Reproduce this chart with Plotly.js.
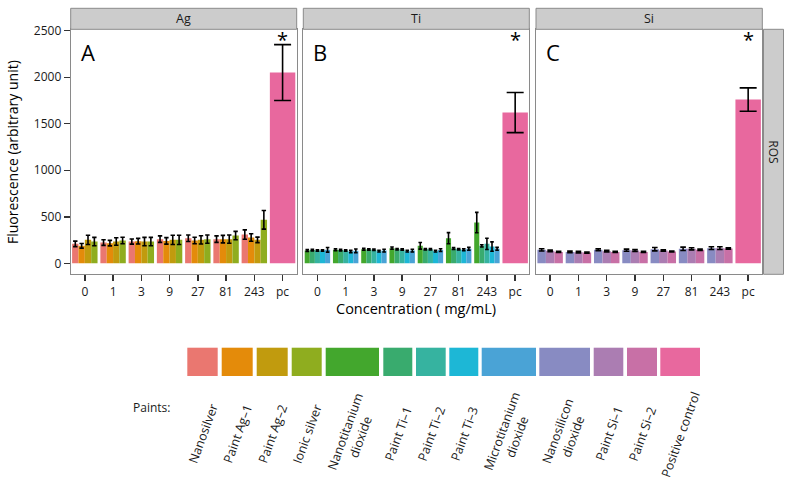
<!DOCTYPE html>
<html><head><meta charset="utf-8">
<script src="https://cdn.plot.ly/plotly-3.0.1.min.js"></script>
<style>html,body{margin:0;padding:0;background:#fff}</style>
</head><body><div id="chart" style="width:792px;height:483px"></div>
<script>
// ---------- DATA ----------
const concentrations = ['0','1','3','9','27','81','243'];
const allCategories = ['0','1','3','9','27','81','243','pc'];
const panelNames = ['Ag','Ti','Si'];
const panelLetters = ['A','B','C'];

// Ag panel
const nanosilver      = [209,223,234,260,270,260,309];
const nanosilverErr   = [30,30,28,35,35,35,50];
const paintAg1        = [188,217,238,241,245,260,277];
const paintAg1Err     = [25,30,30,35,35,40,40];
const paintAg2        = [252,234,234,252,252,260,252];
const paintAg2Err     = [50,40,45,50,45,45,30];
const ionicSilver     = [234,245,234,252,260,298,467];
const ionicSilverErr  = [45,35,45,50,45,45,100];

// Ti panel
const nanoTiO2        = [137,145,152,163,188,270,438];
const nanoTiO2Err     = [10,10,10,12,35,60,110];
const paintTi1        = [142,142,148,152,152,159,188];
const paintTi1Err     = [8,8,8,8,8,10,12];
const paintTi2        = [137,137,145,148,152,152,209];
const paintTi2Err     = [8,8,8,8,8,8,60];
const paintTi3        = [137,127,131,131,131,145,180];
const paintTi3Err     = [8,12,10,10,10,10,50];
const microTiO2       = [145,134,137,137,142,156,156];
const microTiO2Err    = [25,20,15,15,15,15,15];

// Si panel
const nanoSiO2        = [145,123,145,141,152,156,163];
const nanoSiO2Err     = [12,8,10,12,18,18,15];
const paintSi1        = [134,120,131,138,138,156,163];
const paintSi1Err     = [8,8,8,10,8,12,15];
const paintSi2        = [123,116,123,123,127,145,159];
const paintSi2Err     = [6,6,6,6,6,8,8];

// Positive control per panel (Ag, Ti, Si)
const positiveControl    = [2050,1620,1760];
const positiveControlErr = [300,215,125];

// Legend
const legendLabels = ['Nanosilver','Paint Ag–1','Paint Ag–2','Ionic silver','Nanotitanium<br>dioxide',
  'Paint Ti–1','Paint Ti–2','Paint Ti–3','Microtitanium<br>dioxide','Nanosilicon<br>dioxide',
  'Paint Si–1','Paint Si–2','Positive control'];

// ---------- STYLE ----------
const colors = ['#EA7770','#E48B0A','#C19B0E','#8FAD1F','#43A72D','#39AB6E','#36B3A0',
  '#1DB7D6','#4AA3D6','#888BC2','#AB7DB2','#C870A6','#E8689E'];
const W = 792, H = 483;
const px = v => v / W, py = v => 1 - v / H;
const panelX = [[70.7,296.7],[303.3,529.3],[536,762.3]];
const panelTop = 29.3, panelBottom = 274.3, stripTop = 8.3;
const legendLeft  = [187.3,221.7,256.7,291.7,325.7,383.3,416,449.3,481.7,539.3,593.7,627,660.3];
const legendRight = [217.7,252.7,287.7,321.7,379,412.3,445.7,478.3,536,590,623.3,657,700];
const legendTop = 347.7, legendBottom = 376, legendLabelY = 434;
const FONT = '"Open Sans", "DejaVu Sans", sans-serif';
const txt = '#1a1a1a', borderCol = '#8a8a8a', stripFill = '#cccccc';

const panels = [
  {series:[[nanosilver,nanosilverErr,0],[paintAg1,paintAg1Err,1],[paintAg2,paintAg2Err,2],[ionicSilver,ionicSilverErr,3]], errW:2.2},
  {series:[[nanoTiO2,nanoTiO2Err,4],[paintTi1,paintTi1Err,5],[paintTi2,paintTi2Err,6],[paintTi3,paintTi3Err,7],[microTiO2,microTiO2Err,8]], errW:1.8},
  {series:[[nanoSiO2,nanoSiO2Err,9],[paintSi1,paintSi1Err,10],[paintSi2,paintSi2Err,11]], errW:2.8}
];

const traces = [];
panels.forEach((p, i) => {
  const xa = i === 0 ? 'x' : 'x' + (i + 1), ya = i === 0 ? 'y' : 'y' + (i + 1);
  p.series.forEach(([vals, errs, ci]) => {
    traces.push({type:'bar', x:concentrations, y:vals, xaxis:xa, yaxis:ya,
      name:legendLabels[ci], marker:{color:colors[ci], line:{width:0}},
      error_y:{type:'data', array:errs, visible:true, color:'#000', thickness:1.6, width:p.errW},
      showlegend:false, hoverinfo:'skip'});
  });
  traces.push({type:'bar', x:['pc'], y:[positiveControl[i]], xaxis:xa, yaxis:ya,
    offset:-0.45, width:0.9, name:'Positive control',
    marker:{color:colors[12], line:{width:0}},
    error_y:{type:'data', array:[positiveControlErr[i]], visible:true, color:'#000', thickness:1.6, width:8.5},
    showlegend:false, hoverinfo:'skip'});
});

const layout = {
  width:W, height:H, margin:{l:0,r:0,t:0,b:0},
  paper_bgcolor:'#fff', plot_bgcolor:'#fff',
  barmode:'group', bargap:0.1, bargroupgap:0,
  font:{family:FONT, size:12, color:txt},
  showlegend:false, shapes:[], annotations:[]
};

const yRange = [-118, 2515];
panels.forEach((p, i) => {
  const sfx = i === 0 ? '' : String(i + 1);
  layout['xaxis' + sfx] = {
    domain:[px(panelX[i][0]), px(panelX[i][1])], anchor:'y' + sfx,
    type:'category', categoryorder:'array', categoryarray:allCategories, range:[-0.5,7.5],
    showline:true, mirror:true, linecolor:borderCol, linewidth:1,
    ticks:'outside', ticklen:6, tickwidth:1.4, tickcolor:'#333',
    tickfont:{size:12, color:txt, family:FONT},
    showgrid:false, zeroline:false, fixedrange:true
  };
  layout['yaxis' + sfx] = {
    domain:[py(panelBottom), py(panelTop)], anchor:'x' + sfx, range:yRange,
    tickvals:[0,500,1000,1500,2000,2500],
    showline:true, mirror:true, linecolor:borderCol, linewidth:1,
    ticks: i === 0 ? 'outside' : '', ticklen:6, tickwidth:1.4, tickcolor:'#333',
    showticklabels: i === 0, tickfont:{size:12, color:txt, family:FONT},
    showgrid:false, zeroline:false, fixedrange:true
  };
  // strip
  layout.shapes.push({type:'rect', xref:'paper', yref:'paper',
    x0:px(panelX[i][0]), x1:px(panelX[i][1]), y0:py(panelTop), y1:py(stripTop),
    fillcolor:stripFill, line:{color:borderCol, width:1}});
  layout.annotations.push({xref:'paper', yref:'paper', x:px((panelX[i][0]+panelX[i][1])/2),
    y:py((panelTop+stripTop)/2), text:panelNames[i], showarrow:false,
    xanchor:'center', yanchor:'middle', font:{size:12.5, color:txt}});
  // letter
  layout.annotations.push({xref:'paper', yref:'paper', x:px(panelX[i][0] + 8),
    y:py(52), text:panelLetters[i], showarrow:false, xanchor:'left', yanchor:'middle',
    font:{size:22, color:'#000'}});
  // star
  layout.annotations.push({xref:'x' + sfx, yref:'y' + sfx, x:allCategories.indexOf('pc'),
    y:2405, text:'*', showarrow:false, xanchor:'center', yanchor:'middle',
    font:{size:20, color:'#000'}});
});

// ROS strip
layout.shapes.push({type:'rect', xref:'paper', yref:'paper',
  x0:px(763.5), x1:px(783.5), y0:py(panelBottom), y1:py(panelTop),
  fillcolor:stripFill, line:{color:borderCol, width:1}});
layout.annotations.push({xref:'paper', yref:'paper', x:px(773.5), y:py((panelTop+panelBottom)/2),
  text:'ROS', textangle:90, showarrow:false, xanchor:'center', yanchor:'middle', font:{size:12, color:txt}});

// axis titles
layout.annotations.push({xref:'paper', yref:'paper', x:px(416.5), y:py(308),
  text:'Concentration ( mg/mL)', showarrow:false, xanchor:'center', yanchor:'middle',
  font:{size:14.5, color:'#000'}});
layout.annotations.push({xref:'paper', yref:'paper', x:px(12), y:py(152),
  text:'Fluorescence (arbitrary unit)', textangle:-90, showarrow:false, xanchor:'center', yanchor:'middle',
  font:{size:14, color:'#000'}});

// legend
layout.annotations.push({xref:'paper', yref:'paper', x:px(131), y:py(407),
  text:'Paints:', showarrow:false, xanchor:'left', yanchor:'middle', font:{size:12, color:txt}});
legendLabels.forEach((lab, k) => {
  layout.shapes.push({type:'rect', xref:'paper', yref:'paper',
    x0:px(legendLeft[k]), x1:px(legendRight[k]), y0:py(legendBottom), y1:py(legendTop),
    fillcolor:colors[k], line:{width:0}});
  layout.annotations.push({xref:'paper', yref:'paper', x:px((legendLeft[k]+legendRight[k])/2),
    y:py(legendLabelY), text:lab, textangle:-70, showarrow:false, xanchor:'center', yanchor:'middle',
    align:'center', font:{size:12.5, color:txt}});
});

Plotly.newPlot('chart', traces, layout, {displayModeBar:false, staticPlot:true});
</script></body></html>
